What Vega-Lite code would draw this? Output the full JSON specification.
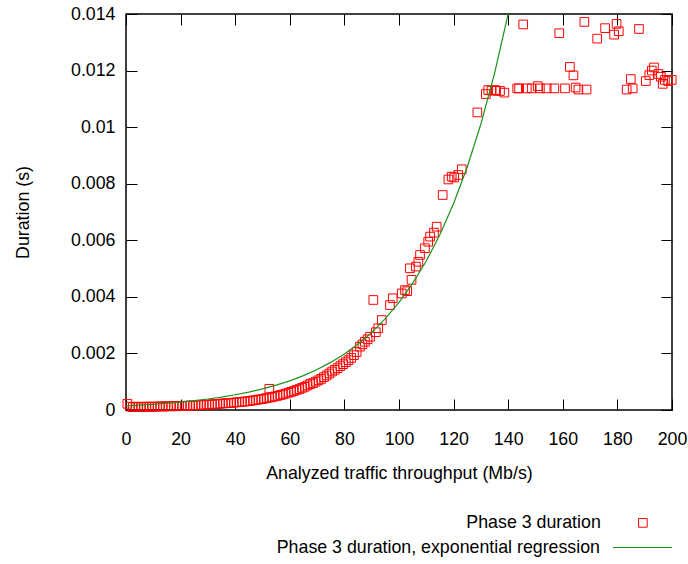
{
  "$schema": "https://vega.github.io/schema/vega-lite/v6.json",
  "width": 546,
  "height": 396,
  "autosize": {"type": "none"},
  "padding": {"left": 126, "top": 14, "right": 16, "bottom": 154},
  "background": "white",
  "config": {
    "font": "Liberation Sans",
    "view": {"stroke": "#000", "strokeWidth": 1.5},
    "axis": {
      "labelFont": "Liberation Sans", "labelFontSize": 17.8, "labelColor": "#000", "labelFlush": false,
      "titleFont": "Liberation Sans", "titleFontSize": 17.8, "titleFontWeight": "normal", "titleColor": "#000",
      "grid": false, "domain": false, "tickColor": "#000", "tickSize": -11, "tickWidth": 1
    }
  },
  "datasets": {
    "points": [
      {"x": 0.5, "y": 0.00022}, {"x": 1.5, "y": 0.00012}, {"x": 2.5, "y": 0.0001}, {"x": 3.5, "y": 0.00011},
      {"x": 4.5, "y": 0.00012}, {"x": 5.5, "y": 0.0001}, {"x": 6.5, "y": 0.00011}, {"x": 7.5, "y": 0.00012},
      {"x": 8.5, "y": 0.00012}, {"x": 9.5, "y": 0.00011}, {"x": 10.5, "y": 0.00012}, {"x": 11.5, "y": 0.00012},
      {"x": 12.5, "y": 0.00013}, {"x": 13.5, "y": 0.00012}, {"x": 14.5, "y": 0.00013}, {"x": 15.5, "y": 0.00013},
      {"x": 16.5, "y": 0.00013}, {"x": 17.5, "y": 0.00014}, {"x": 18.5, "y": 0.00013}, {"x": 19.5, "y": 0.00015},
      {"x": 20.5, "y": 0.00014}, {"x": 21.5, "y": 0.00015}, {"x": 22.5, "y": 0.00015}, {"x": 23.5, "y": 0.00016},
      {"x": 24.5, "y": 0.00016}, {"x": 25.5, "y": 0.00017}, {"x": 26.5, "y": 0.00017}, {"x": 27.5, "y": 0.00018},
      {"x": 28.5, "y": 0.00018}, {"x": 29.5, "y": 0.00019}, {"x": 30.5, "y": 0.00019}, {"x": 31.5, "y": 0.0002},
      {"x": 32.5, "y": 0.00021}, {"x": 33.5, "y": 0.00021}, {"x": 34.5, "y": 0.00022}, {"x": 35.5, "y": 0.00023},
      {"x": 36.5, "y": 0.00024}, {"x": 37.5, "y": 0.00024}, {"x": 38.5, "y": 0.00025}, {"x": 39.5, "y": 0.00026},
      {"x": 40.5, "y": 0.00027}, {"x": 41.5, "y": 0.00028}, {"x": 42.5, "y": 0.00029}, {"x": 43.5, "y": 0.0003},
      {"x": 44.5, "y": 0.00031}, {"x": 45.5, "y": 0.00032}, {"x": 46.5, "y": 0.00034}, {"x": 47.5, "y": 0.00035},
      {"x": 48.5, "y": 0.00037}, {"x": 49.5, "y": 0.00038}, {"x": 50.5, "y": 0.0004}, {"x": 51.5, "y": 0.00042},
      {"x": 52.5, "y": 0.00075}, {"x": 52.5, "y": 0.00044}, {"x": 53.5, "y": 0.00046}, {"x": 54.5, "y": 0.00048},
      {"x": 55.5, "y": 0.0005}, {"x": 56.5, "y": 0.00053}, {"x": 57.5, "y": 0.00055}, {"x": 58.5, "y": 0.00058},
      {"x": 59.5, "y": 0.00061}, {"x": 60.5, "y": 0.00064}, {"x": 61.5, "y": 0.00067}, {"x": 62.5, "y": 0.00071},
      {"x": 63.5, "y": 0.00074}, {"x": 64.5, "y": 0.00078}, {"x": 65.5, "y": 0.00082}, {"x": 66.5, "y": 0.00087},
      {"x": 67.5, "y": 0.00092}, {"x": 68.5, "y": 0.00095}, {"x": 69.5, "y": 0.001}, {"x": 70.5, "y": 0.00105},
      {"x": 71.5, "y": 0.0011}, {"x": 72.5, "y": 0.00116}, {"x": 73.5, "y": 0.00122}, {"x": 74.5, "y": 0.00129},
      {"x": 75.5, "y": 0.00136}, {"x": 76.5, "y": 0.00142}, {"x": 77.5, "y": 0.00148}, {"x": 78.5, "y": 0.00155},
      {"x": 79.5, "y": 0.00162}, {"x": 80.5, "y": 0.00169}, {"x": 81.5, "y": 0.00176}, {"x": 82.5, "y": 0.00184},
      {"x": 83.5, "y": 0.00194}, {"x": 84.5, "y": 0.00205}, {"x": 85.7, "y": 0.00224}, {"x": 86.6, "y": 0.00232},
      {"x": 87.5, "y": 0.00241}, {"x": 88.5, "y": 0.0025}, {"x": 89.4, "y": 0.00259}, {"x": 90.6, "y": 0.00389},
      {"x": 91.5, "y": 0.00275}, {"x": 92.4, "y": 0.00289}, {"x": 93.7, "y": 0.00318}, {"x": 96.7, "y": 0.00371},
      {"x": 97.7, "y": 0.00395}, {"x": 101, "y": 0.00412}, {"x": 102.2, "y": 0.00424}, {"x": 103, "y": 0.0042},
      {"x": 104, "y": 0.00501}, {"x": 104.6, "y": 0.0046}, {"x": 106.2, "y": 0.00507}, {"x": 107.1, "y": 0.00524},
      {"x": 107.7, "y": 0.00548}, {"x": 109.5, "y": 0.00572}, {"x": 110.7, "y": 0.00595}, {"x": 111.4, "y": 0.00613},
      {"x": 112.8, "y": 0.00627}, {"x": 113.8, "y": 0.00648}, {"x": 116, "y": 0.0076}, {"x": 118.1, "y": 0.00815},
      {"x": 119.3, "y": 0.00825}, {"x": 120.2, "y": 0.00822}, {"x": 121.7, "y": 0.00831}, {"x": 123, "y": 0.00851},
      {"x": 128.7, "y": 0.01052}, {"x": 131.8, "y": 0.01117}, {"x": 132.7, "y": 0.01131}, {"x": 133.9, "y": 0.01129},
      {"x": 135.2, "y": 0.01131}, {"x": 135.5, "y": 0.01129}, {"x": 137, "y": 0.01128}, {"x": 138.6, "y": 0.01122},
      {"x": 143.3, "y": 0.01137}, {"x": 144, "y": 0.01137}, {"x": 145.5, "y": 0.01363}, {"x": 146.8, "y": 0.01137},
      {"x": 148.6, "y": 0.01137}, {"x": 150.8, "y": 0.01145}, {"x": 151.6, "y": 0.01137}, {"x": 154.1, "y": 0.01137},
      {"x": 156.9, "y": 0.01137}, {"x": 158.7, "y": 0.01332}, {"x": 160.8, "y": 0.01137}, {"x": 162.6, "y": 0.01213},
      {"x": 163.9, "y": 0.01183}, {"x": 164.7, "y": 0.0114}, {"x": 165.7, "y": 0.01133}, {"x": 167.9, "y": 0.01372},
      {"x": 168.7, "y": 0.01133}, {"x": 172.6, "y": 0.01313}, {"x": 175.5, "y": 0.0135}, {"x": 178.8, "y": 0.01327},
      {"x": 179.7, "y": 0.01365}, {"x": 180.5, "y": 0.01339}, {"x": 183.4, "y": 0.01133}, {"x": 184.9, "y": 0.0117},
      {"x": 185.6, "y": 0.01137}, {"x": 187.9, "y": 0.01347}, {"x": 190.4, "y": 0.01163}, {"x": 191.7, "y": 0.01184},
      {"x": 192.6, "y": 0.012}, {"x": 193.4, "y": 0.01211}, {"x": 195, "y": 0.01188}, {"x": 195.9, "y": 0.01178},
      {"x": 196.6, "y": 0.01153}, {"x": 197.4, "y": 0.01167}, {"x": 198.6, "y": 0.01163}, {"x": 199.9, "y": 0.01167}
    ],
    "fit": [
      {"x": 0, "y": 0.000146}, {"x": 5, "y": 0.000172}, {"x": 10, "y": 0.000202}, {"x": 15, "y": 0.000238},
      {"x": 20, "y": 0.00028}, {"x": 25, "y": 0.00033}, {"x": 30, "y": 0.000388}, {"x": 35, "y": 0.000457},
      {"x": 40, "y": 0.000538}, {"x": 45, "y": 0.000633}, {"x": 50, "y": 0.000745}, {"x": 55, "y": 0.000877},
      {"x": 60, "y": 0.001032}, {"x": 65, "y": 0.001215}, {"x": 70, "y": 0.00143}, {"x": 75, "y": 0.001683},
      {"x": 80, "y": 0.001982}, {"x": 85, "y": 0.002332}, {"x": 90, "y": 0.002745}, {"x": 95, "y": 0.003231},
      {"x": 100, "y": 0.003803}, {"x": 105, "y": 0.004476}, {"x": 110, "y": 0.005268}, {"x": 115, "y": 0.006201},
      {"x": 120, "y": 0.007298}, {"x": 125, "y": 0.008591}, {"x": 130, "y": 0.010112}, {"x": 135, "y": 0.011902},
      {"x": 140, "y": 0.01401}
    ]
  },
  "layer": [
    {
      "data": {"name": "points"},
      "mark": {"type": "point", "shape": "square", "filled": false, "size": 75, "strokeWidth": 1, "opacity": 1},
      "encoding": {
        "x": {"field": "x", "type": "quantitative",
          "scale": {"domain": [0, 200], "nice": false, "zero": false},
          "axis": {"title": "Analyzed traffic throughput (Mb/s)", "values": [0, 20, 40, 60, 80, 100, 120, 140, 160, 180, 200], "labelPadding": 31, "titlePadding": 17}},
        "y": {"field": "y", "type": "quantitative",
          "scale": {"domain": [0, 0.014], "nice": false},
          "axis": {"title": "Duration (s)", "values": [0, 0.002, 0.004, 0.006, 0.008, 0.01, 0.012, 0.014], "format": ".3~f", "labelPadding": 22, "titlePadding": 38}},
        "color": {"datum": "Phase 3 duration", "type": "nominal",
          "scale": {"domain": ["Phase 3 duration"], "range": ["#ff0000"]},
          "legend": {"orient": "none", "legendX": 508, "legendY": 500, "title": null, "symbolType": "square", "symbolSize": 75, "symbolStrokeWidth": 1, "labelAlign": "right", "labelOffset": -51, "labelFontSize": 17.8, "labelFont": "Liberation Sans", "labelColor": "#000", "padding": 0, "labelLimit": 500}}
      }
    },
    {
      "data": {"name": "fit"},
      "mark": {"type": "line", "strokeWidth": 1.2, "clip": true},
      "encoding": {
        "x": {"field": "x", "type": "quantitative",
          "scale": {"domain": [0, 200], "nice": false, "zero": false},
          "axis": {"orient": "top", "labels": false, "title": null, "values": [0, 20, 40, 60, 80, 100, 120, 140, 160, 180, 200]}},
        "y": {"field": "y", "type": "quantitative",
          "scale": {"domain": [0, 0.014], "nice": false},
          "axis": {"orient": "right", "labels": false, "title": null, "values": [0, 0.002, 0.004, 0.006, 0.008, 0.01, 0.012, 0.014]}},
        "stroke": {"datum": "Phase 3 duration, exponential regression", "type": "nominal",
          "scale": {"domain": ["Phase 3 duration, exponential regression"], "range": ["#1a931a"]},
          "legend": {"orient": "none", "legendX": 486, "legendY": 503, "title": null, "symbolType": "stroke", "symbolSize": 3481, "symbolStrokeWidth": 1.2, "labelAlign": "right", "labelOffset": -73, "labelFontSize": 17.8, "labelFont": "Liberation Sans", "labelColor": "#000", "padding": 0, "labelLimit": 500}}
      }
    }
  ],
  "resolve": {"axis": {"x": "independent", "y": "independent"}}
}
